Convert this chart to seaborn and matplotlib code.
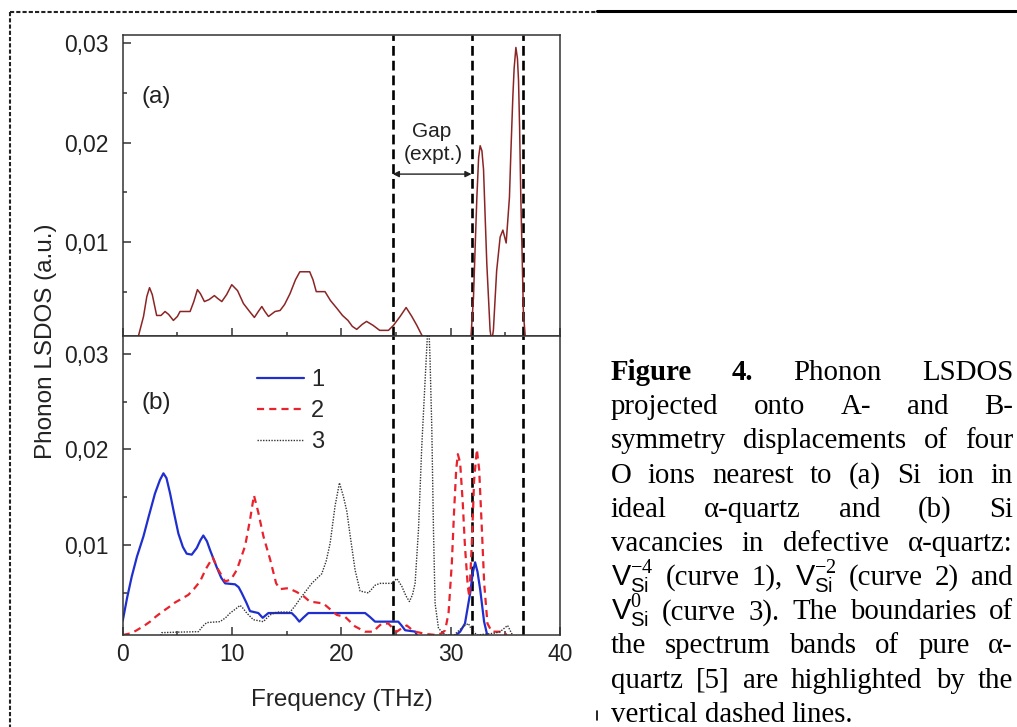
import numpy as np
import pandas as pd
import seaborn as sns
import matplotlib.pyplot as plt
from matplotlib.lines import Line2D

# panel (a): ideal alpha-quartz
freq_a = [1.0, 1.45, 1.9, 2.2, 2.45, 2.7, 3.1, 3.5, 3.87, 4.2, 4.63, 5.0, 5.24, 6.16, 6.5, 6.83, 7.1,
          7.47, 7.9, 8.38, 8.7, 9.06, 9.5, 9.97, 10.5, 11.04, 11.6, 12.04, 12.4, 12.72, 13.0, 13.33,
          13.93, 14.39, 14.8, 15.3, 15.8, 16.2, 17.1, 17.4, 17.7, 18.5, 19.0, 19.6, 20.1, 20.6, 21.0,
          21.4, 21.9, 22.3, 22.9, 23.5, 24.3, 24.76, 25.37, 25.92, 26.44, 26.9, 27.36, 27.7, 31.7,
          31.84, 32.08, 32.25, 32.39, 32.55, 32.69, 32.85, 33.0, 33.15, 33.3, 33.6, 33.75, 33.9, 34.2,
          34.52, 34.77, 35.07, 35.37, 35.5, 35.68, 35.8, 35.96, 36.1, 36.2, 36.3, 36.41, 36.65, 36.85,
          37.0]
lsdos_a = [0.0, 0.0006, 0.0025, 0.0045, 0.0054, 0.0047, 0.0026, 0.0026, 0.0030, 0.0027, 0.0021, 0.0025,
           0.0030, 0.0030, 0.0040, 0.0052, 0.0048, 0.0040, 0.0042, 0.0046, 0.0043, 0.0040, 0.0047,
           0.0057, 0.0051, 0.0038, 0.0030, 0.0024, 0.0030, 0.0035, 0.0030, 0.0025, 0.0030, 0.0031,
           0.0037, 0.0048, 0.0062, 0.0070, 0.0070, 0.0062, 0.0050, 0.0050, 0.0041, 0.0033, 0.0026,
           0.0021, 0.0015, 0.0012, 0.0017, 0.0020, 0.0016, 0.0011, 0.0011, 0.0016, 0.0025, 0.0034,
           0.0025, 0.0016, 0.0006, 0.0, 0.0, 0.0003, 0.0044, 0.0100, 0.0145, 0.0185, 0.0197, 0.0192,
           0.0173, 0.0125, 0.0078, 0.0011, 0.0, 0.0011, 0.0071, 0.0105, 0.0112, 0.0099, 0.0145,
           0.0190, 0.0246, 0.0275, 0.0296, 0.0285, 0.0263, 0.0215, 0.0145, 0.0028, 0.0, 0.0]

# panel (b): Si vacancies, curves 1, 2, 3
freq_1 = [0, 0.4, 0.82, 1.3, 1.89, 2.4, 2.95, 3.4, 3.72, 4.0, 4.33, 4.7, 5.09, 5.5, 5.85, 6.31, 6.77,
          7.1, 7.37, 7.7, 7.98, 8.59, 9.0, 9.36, 10.27, 10.6, 10.88, 11.3, 11.64, 12.4, 12.8, 13.32,
          15.45, 15.8, 16.15, 16.5, 16.98, 22.17, 22.6, 23.08, 25.2, 25.5, 25.83, 26.74, 26.95, 27.2,
          30.1, 30.5, 30.86, 31.3, 31.78, 32.0, 32.23, 32.45, 32.7, 33.05, 33.36, 33.6]
lsdos_1 = [0.0021, 0.0045, 0.0067, 0.0088, 0.0109, 0.0131, 0.0154, 0.0168, 0.0175, 0.0170, 0.0154,
           0.0133, 0.0112, 0.0098, 0.0091, 0.0090, 0.0097, 0.0105, 0.0110, 0.0104, 0.0095, 0.0077,
           0.0066, 0.0060, 0.0059, 0.0056, 0.0050, 0.0040, 0.0031, 0.0029, 0.0024, 0.0029, 0.0029,
           0.0025, 0.0020, 0.0024, 0.0029, 0.0029, 0.0025, 0.0020, 0.0020, 0.0016, 0.0011, 0.00096,
           0.0005, 0.0, 0.0, 0.0006, 0.00095, 0.0018, 0.0050, 0.0070, 0.0082, 0.0072, 0.0053, 0.0020,
           0.0005, 0.0]

freq_2 = [0, 0.8, 1.28, 2.0, 2.5, 3.0, 3.57, 4.2, 4.78, 5.4, 6.0, 6.5, 7.07, 7.6, 8.23, 8.7, 9.36, 9.9,
          10.43, 11.19, 11.65, 12.0, 12.4, 12.87, 13.48, 14.03, 14.4, 15.15, 15.9, 16.5, 17.1, 18.35,
          19.58, 20.34, 21.25, 22.17, 22.93, 23.3, 23.7, 24.3, 24.7, 25.07, 25.5, 25.98, 26.4, 26.74,
          27.8, 28.7, 29.2, 29.49, 29.8, 30.1, 30.3, 30.5, 30.65, 30.86, 31.1, 31.3, 31.56, 31.7,
          31.93, 32.14, 32.39, 32.6, 32.85, 33.06, 33.36, 33.76, 34.5, 35.0, 35.3]
lsdos_2 = [0.0006, 0.0008, 0.0011, 0.0016, 0.0020, 0.0025, 0.0030, 0.0035, 0.0040, 0.0044, 0.0048,
           0.0054, 0.0062, 0.0075, 0.0087, 0.0075, 0.0062, 0.0064, 0.0074, 0.0099, 0.0127, 0.0152,
           0.0134, 0.0109, 0.0085, 0.0060, 0.0054, 0.0055, 0.0051, 0.0047, 0.0041, 0.0039, 0.0027,
           0.0025, 0.0015, 0.00095, 0.00095, 0.0014, 0.0018, 0.0018, 0.0013, 0.00095, 0.0013, 0.0016,
           0.0012, 0.00095, 0.0007, 0.0006, 0.0008, 0.0011, 0.0029, 0.0081, 0.0134, 0.0179, 0.0195,
           0.0186, 0.0144, 0.0099, 0.0057, 0.0046, 0.0102, 0.0168, 0.0200, 0.0179, 0.0116, 0.0060,
           0.0018, 0.00095, 0.00095, 0.0008, 0.0]

freq_3 = [3.3, 3.57, 5.0, 6.92, 7.3, 7.68, 8.9, 9.4, 9.82, 10.3, 10.73, 11.0, 11.34, 11.95, 12.86, 13.2,
          13.48, 14.09, 15.3, 15.8, 16.22, 17.29, 18.2, 18.6, 18.97, 19.42, 19.82, 20.18, 20.5, 20.8,
          21.25, 21.71, 22.47, 23.08, 23.54, 24.61, 25.07, 25.52, 25.9, 26.22, 26.5, 26.74, 27.05,
          27.35, 27.66, 27.96, 28.1, 28.27, 28.42, 28.57, 28.88, 29.5, 30.3, 31.16, 31.62, 31.93,
          32.4, 34.06, 34.52, 35.2, 35.6, 35.8]
lsdos_3 = [0.0, 0.00085, 0.0009, 0.00095, 0.0015, 0.0019, 0.0020, 0.0024, 0.0029, 0.0033, 0.0037,
           0.0034, 0.0029, 0.0022, 0.0020, 0.0024, 0.0027, 0.0030, 0.0030, 0.0037, 0.0044, 0.0060,
           0.0070, 0.0083, 0.0102, 0.0141, 0.0165, 0.0151, 0.0135, 0.0110, 0.0074, 0.0052, 0.0050,
           0.0058, 0.0060, 0.0060, 0.0065, 0.0057, 0.0047, 0.0041, 0.0048, 0.0060, 0.0116, 0.0203,
           0.0273, 0.0340, 0.0297, 0.0221, 0.0116, 0.0039, 0.0013, 0.0006, 0.0006, 0.0015, 0.0018,
           0.0011, 0.0006, 0.0008, 0.00095, 0.0016, 0.0007, 0.0]

band_edges = [24.7, 31.9, 36.65]
x_ticks = [0, 10, 20, 30, 40]
y_ticks = [0.01, 0.02, 0.03]
y_tick_labels = ["0,01", "0,02", "0,03"]
legend_labels = ["1", "2", "3"]

caption_lines = [
    "Figure 4. Phonon LSDOS",
    "projected onto A- and B-",
    "symmetry displacements of four",
    "O ions nearest to (a) Si ion in",
    "ideal α-quartz and (b) Si",
    "vacancies in defective α-quartz:",
    r"$\mathsf{V}_{\mathsf{Si}}^{-4}$ (curve 1), $\mathsf{V}_{\mathsf{Si}}^{-2}$ (curve 2) and",
    r"$\mathsf{V}_{\mathsf{Si}}^{0}$ (curve 3). The boundaries of",
    "the spectrum bands of pure α-",
    "quartz [5] are highlighted by the",
    "vertical dashed lines.",
]

sns.set_theme(style="ticks")
plt.rcParams["font.family"] = ["Liberation Sans", "DejaVu Sans"]
plt.rcParams["mathtext.fontset"] = "custom"
plt.rcParams["mathtext.rm"] = "Liberation Serif"
plt.rcParams["mathtext.sf"] = "Liberation Sans"
plt.rcParams["mathtext.it"] = "Liberation Serif:italic"

W, H = 1017, 727
fig = plt.figure(figsize=(W / 100, H / 100), dpi=100)
fig.patch.set_facecolor("white")

ax1 = fig.add_axes([0.1207, 0.5385, 0.4300, 0.4140])
ax2 = fig.add_axes([0.1207, 0.1265, 0.4300, 0.4120])

sns.lineplot(x=freq_a, y=lsdos_a, ax=ax1, color="#8b2525", lw=1.1, estimator=None)
sns.lineplot(x=freq_1, y=lsdos_1, ax=ax2, color="#1f2fcf", lw=1.6, estimator=None, label=legend_labels[0])
sns.lineplot(x=freq_2, y=lsdos_2, ax=ax2, color="#e8232d", lw=1.6, estimator=None,
             linestyle=(0, (3.2, 2.3)), label=legend_labels[1])
sns.lineplot(x=freq_3, y=lsdos_3, ax=ax2, color="#333333", lw=1.0, estimator=None,
             linestyle=(0, (1, 1)), label=legend_labels[2])

for ax in (ax1, ax2):
    for xe in band_edges:
        ax.axvline(xe, color="black", lw=1.9, linestyle=(0, (3.7, 1.9)), zorder=1)
    ax.set_xlim(0, 40)
    ax.set_xticks(x_ticks)
    ax.set_xticks([5, 15, 25, 35], minor=True)
    ax.set_yticks(y_ticks)
    ax.set_yticklabels(y_tick_labels)
    ax.set_yticks([0.005, 0.015, 0.025], minor=True)
    ax.tick_params(which="both", direction="in", color="#333333", width=1.1, labelsize=16.5,
                   labelcolor="#222222", top=False, right=False)
    ax.tick_params(which="major", length=5.8)
    ax.tick_params(which="minor", length=3.2)
    ax.tick_params(axis="y", pad=10)
    ax.tick_params(axis="x", pad=6)
    for sp in ax.spines.values():
        sp.set_color("#333333")
        sp.set_linewidth(1.1)
        sp.set_visible(True)
    ax.set_ylabel("")

ax1.set_ylim(0.00058, 0.0309)
ax2.set_ylim(0.0006, 0.0319)
ax1.tick_params(axis="x", labelbottom=False)
ax1.set_xlabel("")
ax2.set_xlabel("Frequency (THz)", fontsize=17.5, color="#222222", labelpad=16)

fig.text(46 / W, 1 - 341.5 / H, "Phonon LSDOS (a.u.)", rotation=90, ha="center", va="center",
         fontsize=17.5, color="#222222")

ax1.text(0.0434, 0.7934, "(a)", transform=ax1.transAxes, fontsize=17.5, va="center", color="#222222")
ax2.text(0.0434, 0.7746, "(b)", transform=ax2.transAxes, fontsize=17.5, va="center", color="#222222")

ax1.text(28.27, 0.0211, "Gap", ha="center", va="center", fontsize=15, color="#222222")
ax1.text(28.4, 0.01886, "(expt.)", ha="center", va="center", fontsize=15, color="#222222")
ax1.annotate("", xy=(band_edges[0], 0.01684), xytext=(band_edges[1], 0.01684),
             arrowprops=dict(arrowstyle="<|-|>", lw=1.0, color="#222222", mutation_scale=9,
                             shrinkA=0, shrinkB=0))

ax2.legend(loc="upper left", bbox_to_anchor=(0.3064, 0.888), frameon=False, fontsize=17,
           handlelength=2.0, handletextpad=0.3, labelspacing=0.38, borderpad=0, borderaxespad=0)

# page border fragments around the figure box
fig.add_artist(Line2D([9.5 / W, 9.5 / W], [1 - 12 / H, 0], transform=fig.transFigure,
                      color="#222222", lw=1.5, linestyle=(0, (2, 1))))
fig.add_artist(Line2D([9.5 / W, 597 / W], [1 - 12 / H, 1 - 12 / H], transform=fig.transFigure,
                      color="#222222", lw=1.5, linestyle=(0, (2, 1))))
fig.add_artist(Line2D([597 / W, 1016 / W], [1 - 11 / H, 1 - 11 / H], transform=fig.transFigure,
                      color="black", lw=2.2))
fig.add_artist(Line2D([597 / W, 597 / W], [1 - 711 / H, 1 - 720 / H], transform=fig.transFigure,
                      color="black", lw=1.2))

# justified caption on the right
cap_left, cap_right = 610.7, 1013
cap_size = 20.8
renderer = fig.canvas.get_renderer()
for i, line in enumerate(caption_lines):
    y = 1 - (380 + 34.17 * i) / H
    words = line.split(" ")
    texts = []
    for j, w in enumerate(words):
        bold = (i == 0 and j < 2)
        texts.append(fig.text(0, y, w, fontsize=cap_size, fontweight="bold" if bold else "normal",
                              family="Liberation Serif", va="baseline", ha="left", color="black"))
    widths = [t.get_window_extent(renderer).width for t in texts]
    if i == len(caption_lines) - 1:
        gap = 0.25 * cap_size * 100 / 72
    else:
        gap = max((cap_right - cap_left - sum(widths)) / (len(texts) - 1), 3)
    x = cap_left
    for t, w in zip(texts, widths):
        t.set_x(x / W)
        x += w + gap

fig.savefig("out.png", dpi=100)
